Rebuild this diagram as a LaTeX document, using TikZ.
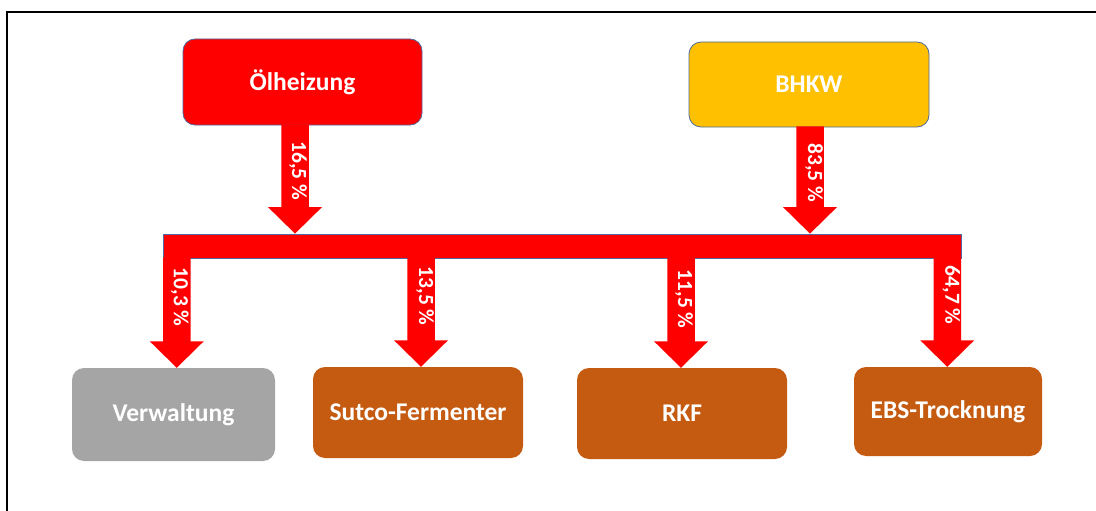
\documentclass[tikz,border=0pt]{standalone}
\usepackage{fontspec}
\setmainfont{Carlito}
\usetikzlibrary{calc}
\definecolor{oelred}{HTML}{FF0000}
\definecolor{bhkwyel}{HTML}{FFC000}
\definecolor{brownbox}{HTML}{C55A11}
\definecolor{graybox}{HTML}{A5A5A5}
\definecolor{outl}{HTML}{4F6AA0}
\newcommand\blockarrow[4]{%
  \fill[oelred] ($(#1)+(-13.75,-1)$) -- ($(#2)+(-13.75,-26.5)$) -- ($(#2)+(-27,-26.5)$) -- (#2)
    -- ($(#2)+(27,-26.5)$) -- ($(#2)+(13.75,-26.5)$) -- ($(#1)+(13.75,-1)$) -- cycle;
  \node[pctlabel] at ($(#1)!0.5!(#2)+(#4)$) {#3};
}
\begin{document}
\begin{tikzpicture}[x=1pt,y=-1pt,
  box/.style={rectangle, rounded corners=12pt, text=white, inner sep=0pt,
    font=\fontsize{25.5}{30}\selectfont\bfseries},
  topbox/.style={box, draw=outl, line width=0.8pt},
  pctlabel/.style={rotate=-90, text=white, inner sep=0pt,
    font=\fontsize{21.5}{26}\selectfont\bfseries}]
\useasboundingbox (0,0) rectangle (1096,511);
\fill[white] (0,0) rectangle (1096,511);
\draw[line width=2.5pt] (7,511) -- (7,12) -- (1096,12);

% source boxes
\node[topbox, fill=oelred, minimum width=239pt, minimum height=86pt] (oel) at (302.5,82) {Ölheizung};
\node[topbox, fill=bhkwyel, minimum width=240pt, minimum height=85pt] (bhkw) at (809,84.5) {BHKW};

% distribution bar
\node[rectangle, fill=oelred, draw=outl, line width=0.8pt, inner sep=0pt,
  minimum width=798pt, minimum height=24pt] (bar) at (562,246) {};

% consumer boxes
\node[box, fill=graybox, minimum width=203pt, minimum height=93pt] (verw) at (173.5,414.5) {Verwaltung};
\node[box, fill=brownbox, minimum width=210pt, minimum height=91pt] (sutco) at (418,412.5) {Sutco-Fermenter};
\node[box, fill=brownbox, minimum width=210pt, minimum height=91pt] (rkf) at (682,413.5) {RKF};
\node[box, fill=brownbox, minimum width=188pt, minimum height=89pt] (ebs) at (948,411.5) {EBS-Trocknung};

% arrow axes
\coordinate (a1) at (295,0);
\coordinate (a2) at (810,0);
\coordinate (b1) at (176.75,0);
\coordinate (b2) at (421,0);
\coordinate (b3) at (681,0);
\coordinate (b4) at (947.25,0);

\blockarrow{oel.south -| a1}{bar.north -| a1}{16,5 \%}{3,-8.5}
\blockarrow{bhkw.south -| a2}{bar.north -| a2}{83,5 \%}{4,-7.5}
\blockarrow{bar.south -| b1}{verw.north -| b1}{10,3 \%}{3,-16}
\blockarrow{bar.south -| b2}{sutco.north -| b2}{13,5 \%}{4,-16.5}
\blockarrow{bar.south -| b3}{rkf.north -| b3}{11,5 \%}{3,-14}
\blockarrow{bar.south -| b4}{ebs.north -| b4}{64,7 \%}{4,-17.5}
\end{tikzpicture}
\end{document}
